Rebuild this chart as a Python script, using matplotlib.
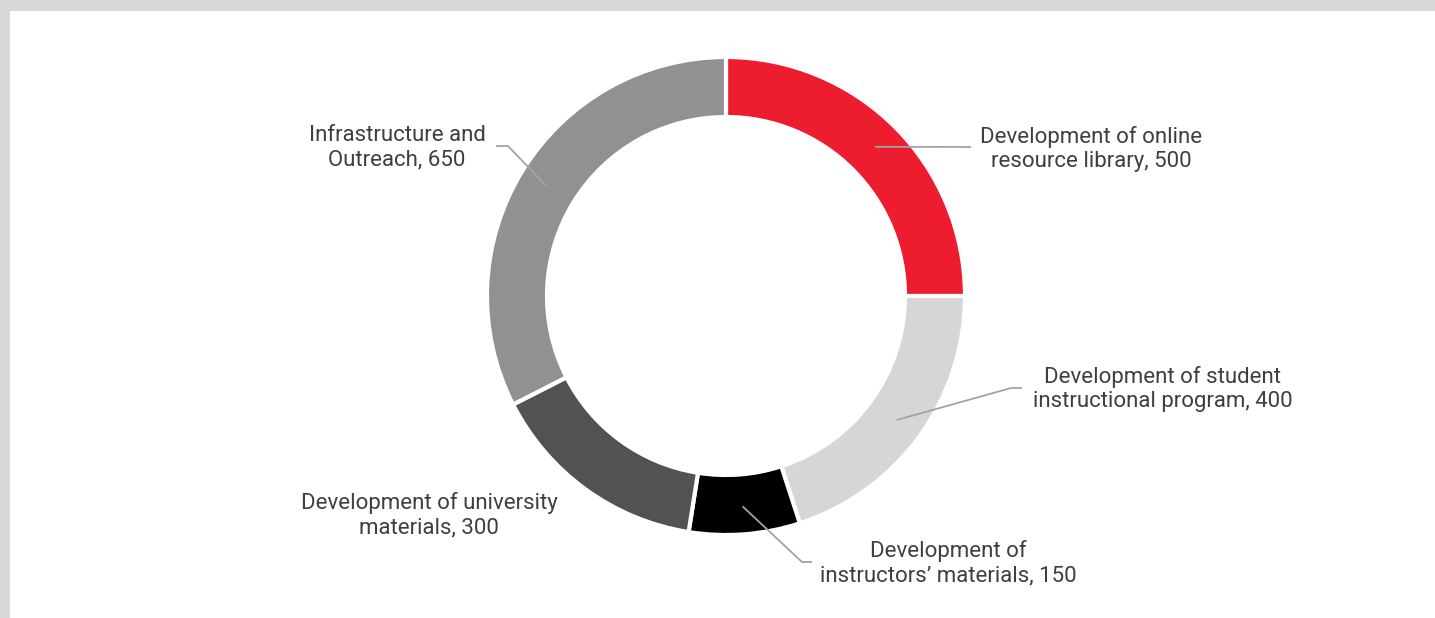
import numpy as np
import matplotlib
matplotlib.use("Agg")
import matplotlib.pyplot as plt
from matplotlib.patches import Rectangle

# ---- data ----
categories = [
    "Development of online\nresource library",
    "Development of student\ninstructional program",
    "Development of\ninstructors\u2019 materials",
    "Development of university\nmaterials",
    "Infrastructure and\nOutreach",
]
values = [500, 400, 150, 300, 650]
colors = ["#ED1C2E", "#D6D6D8", "#000000", "#525252", "#919191"]

# ---- layout (pixel coordinates, y downward in reference) ----
W, H = 1435, 618
cx, cy = 726, 296
R_out, R_in = 239, 179
lead_r = 211
# per label: (text center x, text center y, elbow point, end point) ; None = no leader
label_layout = [
    (1091, 149, (971, 147), (971, 147)),
    (1163, 389, (1011, 388), (1022, 388)),
    (948, 563, (802, 562), (812, 562)),
    (429, 515, None, None),
    (397, 148, (508, 146), (496, 146)),
]

fig = plt.figure(figsize=(W / 100, H / 100), dpi=100)
fig.patch.set_facecolor("#D7D8DA")
ax = fig.add_axes([0, 0, 1, 1])
ax.set_xlim(0, W)
ax.set_ylim(0, H)
ax.set_aspect("equal")
ax.axis("off")

ax.add_patch(Rectangle((10, 0), W - 10, H - 11, facecolor="white", edgecolor="none", zorder=0))

def fy(y):
    return H - y

ax.pie(values, colors=colors, startangle=90, counterclock=False,
       radius=R_out, center=(cx, fy(cy)),
       wedgeprops=dict(width=R_out - R_in, edgecolor="white", linewidth=3),
       frame=True)
ax.set_xlim(0, W)
ax.set_ylim(0, H)
ax.axis("off")

total = sum(values)
cum = np.cumsum([0] + values)
font = ["Roboto", "DejaVu Sans"]
for i, (cat, v) in enumerate(zip(categories, values)):
    mid = (cum[i] + v / 2) / total * 2 * np.pi
    sx = cx + lead_r * np.sin(mid)
    sy = cy - lead_r * np.cos(mid)
    tx, ty, elbow, end = label_layout[i]
    if elbow is not None:
        xs = [sx, elbow[0], end[0]]
        ys = [fy(sy), fy(elbow[1]), fy(end[1])]
        ax.plot(xs, ys, color="#A3A3A3", lw=1.3, solid_capstyle="butt", zorder=5)
    ax.text(tx, fy(ty), f"{cat}, {v}", ha="center", va="center", ma="center",
            fontsize=16, color="#3F3F3F", family=font, linespacing=1.24, zorder=6)

fig.savefig("out.png", dpi=100, facecolor=fig.get_facecolor())
